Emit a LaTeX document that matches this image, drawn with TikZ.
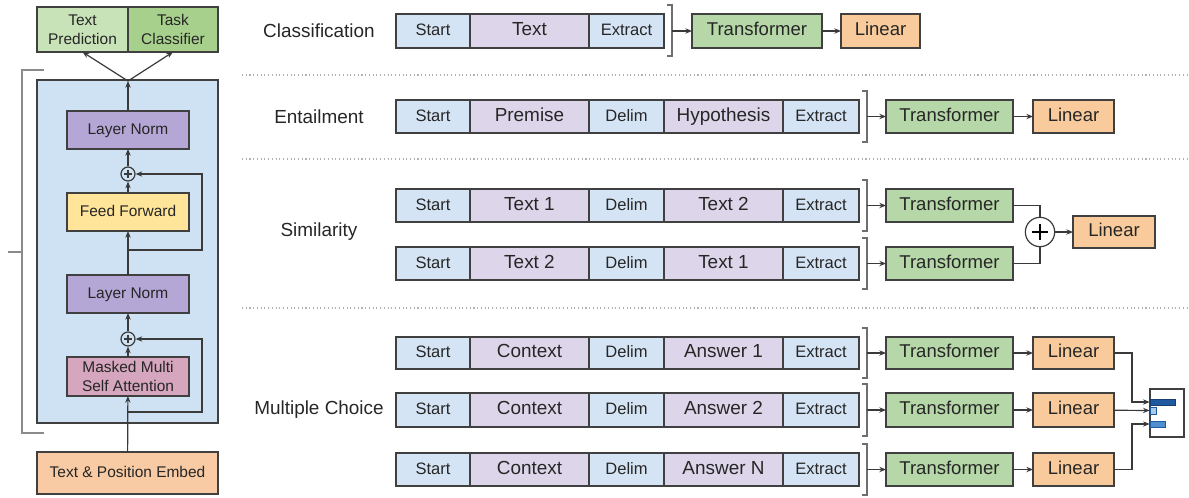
\documentclass[tikz,border=0pt]{standalone}
\usepackage{fontspec}
\setmainfont{Liberation Sans}
\usetikzlibrary{calc,arrows.meta}
\definecolor{cblue}{HTML}{D5E4F4}
\definecolor{cpurp}{HTML}{DDD6EA}
\definecolor{cgreen}{HTML}{B6D7A8}
\definecolor{corange}{HTML}{F9CB9C}
\definecolor{cgreenl}{HTML}{C9E3B9}
\definecolor{cgreend}{HTML}{A8D08D}
\definecolor{cln}{HTML}{B4A7D6}
\definecolor{cff}{HTML}{FFE599}
\definecolor{cmm}{HTML}{D5A6BD}
\definecolor{cemb}{HTML}{F8CBA4}
\definecolor{cbg}{HTML}{CFE2F3}
\definecolor{cborder}{HTML}{404040}
\definecolor{ctext}{HTML}{262626}
\definecolor{cline}{HTML}{3A3A3A}
\definecolor{cbrk}{HTML}{6E6E6E}
\definecolor{csep}{HTML}{B0B0B0}
\definecolor{cbarA}{HTML}{1F5AA0}
\definecolor{cbarB}{HTML}{A9CBEA}
\definecolor{cbarC}{HTML}{4F8FD0}
% box from corners (px): style, name, x1, y1, x2, y2, text
\newcommand\bx[7]{\node[#1, minimum width={(#5-#3)*0.75pt}, minimum height={(#6-#4)*0.75pt}] (#2) at ({(#3+#5)/2},{(#4+#6)/2}) {#7};}
\newcommand\rowfive[5]{%
  \bx{bcell}{#1s}{396}{#2}{470}{#3}{Start}
  \bx{pcell}{#1a}{470}{#2}{589}{#3}{#4}
  \bx{bcell}{#1d}{589}{#2}{664}{#3}{Delim}
  \bx{pcell}{#1b}{664}{#2}{783}{#3}{#5}
  \bx{bcell}{#1e}{783}{#2}{859}{#3}{Extract}
  \draw[brk] (862,#2-9) -- (867,#2-9) -- (867,#3+9) -- (862,#3+9);
  \coordinate (#1k) at (867,{(#2+#3)/2});
  \bx{tbox}{#1t}{886}{#2}{1013}{#3}{Transformer}
  \draw[arr] (#1k) -- (#1t);
}
\begin{document}
\begin{tikzpicture}[x=0.75pt,y=-0.75pt,
  box/.style={draw=cborder, line width=1pt, inner sep=0pt, outer sep=0pt, text=ctext},
  one/.style={text height=0.72em, text depth=0.02em},
  bcell/.style={box, one, fill=cblue, line width=0.8pt, font=\fontsize{12.4}{14}\selectfont},
  pcell/.style={box, one, fill=cpurp, line width=0.8pt, font=\fontsize{14.2}{16}\selectfont},
  tbox/.style={box, one, fill=cgreen, font=\fontsize{13.9}{16}\selectfont},
  lbox/.style={box, one, fill=corange, font=\fontsize{13.9}{16}\selectfont},
  lft/.style={box, line width=1.2pt, align=center, font=\fontsize{11.6}{14.5}\selectfont},
  arr/.style={draw=cline, line width=0.9pt, -{Stealth[length=5pt,width=4pt]}},
  ln/.style={draw=cline, line width=0.9pt},
  brk/.style={draw=cbrk, line width=1.3pt},
  sep/.style={draw=csep, line width=0.8pt, dotted},
  lbl/.style={text=ctext, font=\fontsize{14.2}{16}\selectfont},
  plussm/.style={circle, draw=cline, fill=cbg, line width=0.9pt, minimum size=10.5pt, inner sep=0pt,
    path picture={\draw[cline, line width=0.8pt] ([xshift=-3pt]path picture bounding box.center) -- ([xshift=3pt]path picture bounding box.center);
      \draw[cline, line width=0.8pt] ([yshift=-3pt]path picture bounding box.center) -- ([yshift=3pt]path picture bounding box.center);}},
  plusbig/.style={circle, draw=cline, fill=white, line width=0.9pt, minimum size=22pt, inner sep=0pt,
    path picture={\draw[black, line width=1.8pt] ([xshift=-6pt]path picture bounding box.center) -- ([xshift=6pt]path picture bounding box.center);
      \draw[black, line width=1.8pt] ([yshift=-6pt]path picture bounding box.center) -- ([yshift=6pt]path picture bounding box.center);}}
]
\useasboundingbox (0,0) rectangle (1189,497);

% ---------------- left: transformer block ----------------
\bx{box, fill=cbg, line width=1.2pt}{blk}{37}{80}{218}{423}{}
\bx{lft, fill=cgreenl}{tp}{37}{7}{128}{52}{Text\\Prediction}
\bx{lft, fill=cgreend}{tc}{128}{7}{218}{52}{Task\\Classifier}
\bx{lft, one, fill=cln}{ln1}{67}{111}{189}{149}{Layer Norm}
\node[plussm] (p1) at (128,174) {};
\bx{lft, one, fill=cff}{ff}{67}{193}{189}{231}{Feed Forward}
\bx{lft, one, fill=cln}{ln2}{67}{275}{189}{313}{Layer Norm}
\node[plussm] (p2) at (128,339) {};
\bx{lft, fill=cmm, font=\fontsize{11.6}{14}\selectfont}{mm}{67}{357}{189}{396}{Masked Multi\\Self Attention}
\bx{lft, one, fill=cemb}{emb}{37}{452}{218}{494}{Text \& Position Embed}
\coordinate (r1) at (128,250);
\coordinate (r2) at (128,412);
\coordinate (top) at (128,81);

\draw[arr] (emb) -- (mm);
\draw[arr] (mm) -- (p2);
\draw[arr] (p2) -- (ln2);
\draw[arr] (ln2) -- (ff);
\draw[arr] (ff) -- (p1);
\draw[arr] (p1) -- (ln1);
\draw[arr] (ln1) -- (top);
\draw[arr] (top) -- (tp.south);
\draw[arr] (top) -- (tc.south);
\draw[arr] (r2) -- ++(74,0) |- (p2.east);
\draw[arr] (r1) -- ++(74,0) |- (p1.east);

\draw[brk, draw=cbrk!80] (44,70) -- (22,70) -- (22,433) -- (44,433);
\draw[brk, draw=cbrk!80] (8,252) -- (22,252);

% ---------------- separators ----------------
\draw[sep] (242,75) -- (1189,75);
\draw[sep] (242,159) -- (1189,159);
\draw[sep] (242,308) -- (1189,308);

% ---------------- labels ----------------
\node[lbl] (lcls) at (319,31) {Classification};
\node[lbl] (lent) at (319,117) {Entailment};
\node[lbl] (lsim) at (319,232) {Similarity};
\node[lbl] (lmc) at (319,410) {Multiple Choice};

% ---------------- classification ----------------
\bx{bcell}{cs}{396}{14}{470}{48}{Start}
\bx{pcell}{ct}{470}{14}{589}{48}{Text}
\bx{bcell}{ce}{589}{14}{664}{48}{Extract}
\draw[brk] (667,5) -- (672,5) -- (672,56) -- (667,56);
\coordinate (ck) at (672,31);
\bx{tbox}{ctr}{692}{14}{822}{48}{Transformer}
\bx{lbox}{cl}{841}{14}{920}{48}{Linear}
\draw[arr] (ck) -- (ctr);
\draw[arr] (ctr) -- (cl);

% ---------------- entailment ----------------
\rowfive{e}{100}{133}{Premise}{Hypothesis}
\bx{lbox}{el}{1033}{100}{1114}{133}{Linear}
\draw[arr] (et) -- (el);

% ---------------- similarity ----------------
\rowfive{s}{189}{222}{Text 1}{Text 2}
\rowfive{u}{247}{280}{Text 2}{Text 1}
\node[plusbig] (sp) at (1040,232) {};
\bx{lbox}{sl}{1073}{216}{1155}{248}{Linear}
\draw[ln] (st) -| (sp);
\draw[ln] (ut) -| (sp);
\draw[arr] (sp) -- (sl);

% ---------------- multiple choice ----------------
\rowfive{m}{337}{369}{Context}{Answer 1}
\rowfive{n}{393}{427}{Context}{Answer 2}
\rowfive{o}{453}{486}{Context}{Answer N}
\bx{lbox}{ml}{1033}{337}{1114}{369}{Linear}
\bx{lbox}{nl}{1033}{393}{1114}{427}{Linear}
\bx{lbox}{ol}{1033}{453}{1114}{486}{Linear}
\draw[arr] (mt) -- (ml);
\draw[arr] (nt) -- (nl);
\draw[arr] (ot) -- (ol);

\bx{draw=cborder, fill=white, inner sep=0pt, line width=0.9pt}{chart}{1150}{389}{1184}{437}{}
\bx{inner sep=0pt, fill=cbarA, draw=cbarA!70!black, line width=0.5pt}{b1}{1150}{399}{1175}{405}{}
\bx{inner sep=0pt, fill=cbarB, draw=cbarA, line width=0.5pt}{b2}{1150}{407}{1156}{414}{}
\bx{inner sep=0pt, fill=cbarC, draw=cbarA, line width=0.5pt}{b3}{1150}{421}{1165}{427}{}
\draw[arr] (ml.east) -- ++(18,0) |- (b1.west);
\draw[arr] (nl) -- (b2);
\draw[arr] (ol.east) -- ++(18,0) |- (b3.west);
\end{tikzpicture}
\end{document}
